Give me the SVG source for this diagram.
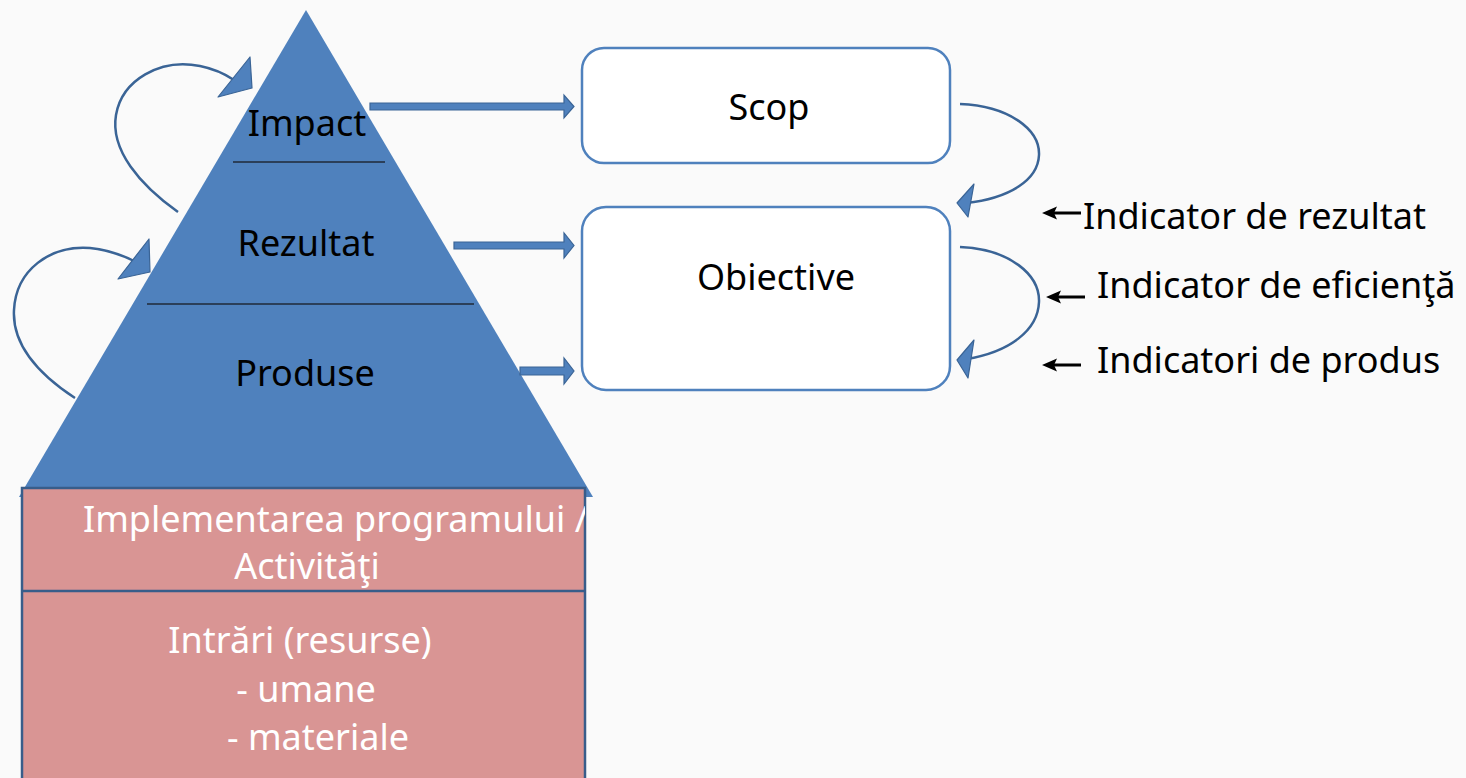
<svg xmlns="http://www.w3.org/2000/svg" width="1466" height="778" viewBox="0 0 1466 778">
  <defs>
    <style>
      .t { font-family: "Noto Sans", "Open Sans", "Liberation Sans", sans-serif; font-size: 36px; fill: #000; }
      .w { fill: #ffffff; }
      .mid { text-anchor: middle; }
      .box { fill: #ffffff; stroke: #4f81bd; stroke-width: 2.5; }
      .blk { fill: #4f81bd; stroke: #3a6496; stroke-width: 1.2; }
      .curve { fill: none; stroke: #3a6496; stroke-width: 2.5; }
      .head { fill: #4f81bd; stroke: #3a6496; stroke-width: 1.2; stroke-linejoin: round; }
      .sm { stroke: #000; stroke-width: 3; fill: none; }
    </style>
    <path id="sah" d="M0,0 L15,-6.5 L12,0 L15,6.5 Z" fill="#000"/>
    <clipPath id="pinkclip"><rect x="22" y="488" width="563" height="300"/></clipPath>
  </defs>

  <rect x="0" y="0" width="1466" height="778" fill="#fafafa"/>

  <g id="pyramid">
    <polygon points="306,10 19,497 593,497" fill="#4f81bd"/>
    <line x1="233" y1="162" x2="385" y2="162" stroke="#1f2a38" stroke-width="1.3"/>
    <line x1="147" y1="304" x2="474" y2="304" stroke="#1f2a38" stroke-width="1.3"/>
    <text class="t mid" x="307" y="136">Impact</text>
    <text class="t mid" x="306" y="256">Rezultat</text>
    <text class="t mid" x="305" y="386">Produse</text>
  </g>

  <g id="base">
    <rect x="22" y="488" width="563" height="300" fill="#d99594" stroke="#385d8a" stroke-width="2.5"/>
    <line x1="22" y1="591" x2="585" y2="591" stroke="#385d8a" stroke-width="2.5"/>
    <g clip-path="url(#pinkclip)">
      <text class="t w" x="83" y="532">Implementarea programului /</text>
    </g>
    <text class="t w mid" x="307" y="579">Activităţi</text>
    <text class="t w mid" x="300" y="653">Intrări (resurse)</text>
    <text class="t w mid" x="306" y="702">- umane</text>
    <text class="t w mid" x="318" y="750">- materiale</text>
  </g>

  <g id="scop">
    <rect class="box" x="582" y="48" width="368" height="115" rx="22"/>
    <text class="t mid" x="769" y="120">Scop</text>
  </g>

  <g id="obiective">
    <rect class="box" x="582" y="207" width="368" height="183" rx="24"/>
    <text class="t mid" x="776" y="290">Obiective</text>
  </g>

  <g id="indicators">
    <text class="t" x="1083" y="229">Indicator de rezultat</text>
    <text class="t" x="1097" y="298">Indicator de eficienţă</text>
    <text class="t" x="1097" y="373">Indicatori de produs</text>
  </g>

  <g id="connectors">
    <polygon class="blk" points="370,103 564,103 564,95 574,106.5 564,118 564,110 370,110"/>
    <polygon class="blk" points="454,242 564,242 564,233 574,245.5 564,258 564,249 454,249"/>
    <polygon class="blk" points="520,367 564,367 564,358 574,371 564,384 564,375 520,375"/>

    <path class="curve" d="M178,212 C140,185 110,150 116,115 C122,80 160,58 200,66 C215,69 225,74 234,80"/>
    <polygon class="head" points="250,57 252,88 218,97"/>

    <path class="curve" d="M75,398 C40,375 12,345 14,310 C16,270 50,245 90,248 C108,250 120,254 134,261"/>
    <polygon class="head" points="149,239 150,272 118,279"/>

    <path class="curve" d="M960,104 C1010,106 1040,130 1039,155 C1038,180 1010,198 966,203"/>
    <polygon class="head" points="974,184 957,203 968,217"/>

    <path class="curve" d="M960,247 C1010,249 1040,275 1039,302 C1038,330 1010,352 966,359"/>
    <polygon class="head" points="974,340 957,360 968,378"/>

    <line class="sm" x1="1081" y1="213" x2="1052" y2="213"/>
    <use href="#sah" x="1042" y="213"/>
    <line class="sm" x1="1085" y1="297" x2="1056" y2="297"/>
    <use href="#sah" x="1046" y="297"/>
    <line class="sm" x1="1081" y1="365" x2="1052" y2="365"/>
    <use href="#sah" x="1042" y="365"/>
  </g>
</svg>
